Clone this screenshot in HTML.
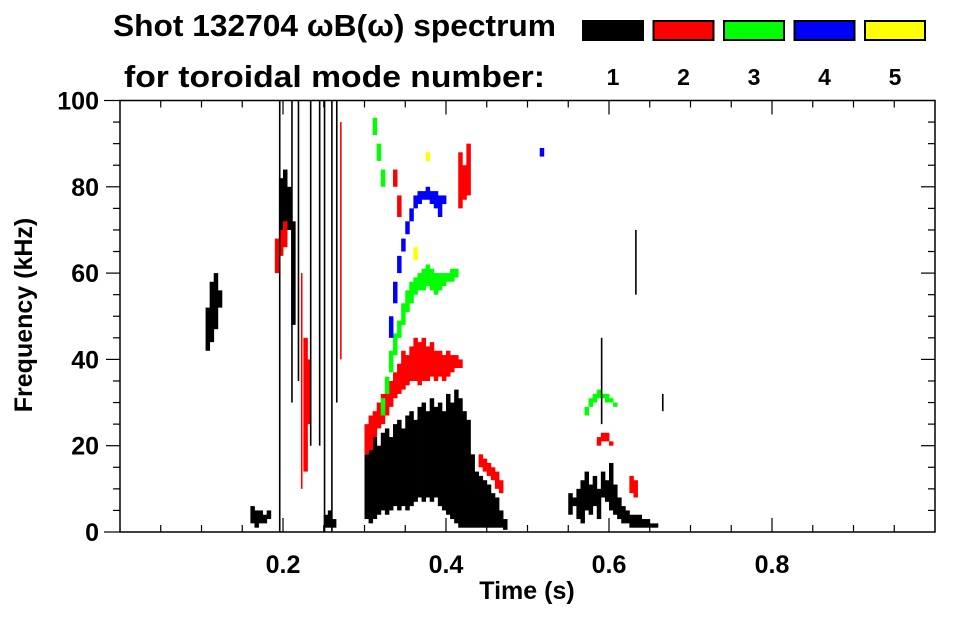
<!DOCTYPE html>
<html><head><meta charset="utf-8"><style>
body{margin:0;background:#fff;}
svg text{font-family:"Liberation Sans",Arial,sans-serif;font-weight:bold;fill:#000;}
</style></head><body>
<svg id="chart" width="963" height="615" viewBox="0 0 963 615" xmlns="http://www.w3.org/2000/svg">
<text x="113" y="36" font-size="31" textLength="443" lengthAdjust="spacingAndGlyphs">Shot 132704 ωB(ω) spectrum</text>
<text x="124" y="87" font-size="31" textLength="421" lengthAdjust="spacingAndGlyphs">for toroidal mode number:</text>
<g id="legend"></g>
<g id="marks"></g>
<g id="axes"></g>
<text x="527" y="599" font-size="25" text-anchor="middle">Time (s)</text>
<text transform="translate(32,315) rotate(-90)" font-size="25" text-anchor="middle">Frequency (kHz)</text>
</svg>
<script>
const modeColors=["#000000","#ff0000","#00ff00","#0000ff","#ffff00"];
const modeLabels=["1","2","3","4","5"];
const xTicks=[0.2,0.4,0.6,0.8];
const yTicks=[0,20,40,60,80,100];
// mode 1 main blob
const blackT=[0.300,0.305,0.310,0.315,0.320,0.325,0.330,0.335,0.340,0.345,0.350,0.355,0.360,0.365,0.370,0.375,0.380,0.385,0.390,0.395,0.400,0.405,0.410,0.415,0.420,0.425,0.430,0.435,0.440,0.445,0.450,0.455,0.460,0.465,0.470,
 0.195,0.200,0.205,0.210, 0.160,0.165,0.170,0.175,0.180, 0.105,0.110,0.115,0.120,
 0.550,0.555,0.560,0.565,0.570,0.575,0.580,0.585,0.590,0.595,0.600,0.605,0.610,0.615,0.620,0.625,0.630,0.635,0.640,0.645,0.650,0.655,0.250,0.255,0.260];
const blackLo=[3,2,3,4,5,4,5,6,5,6,5,6,7,8,7,8,7,8,6,5,4,3,2,1,1,1,1,1,1,1,1,1,1,1,0.5,
 66,68,70,48, 2,1,2,2,3, 42,44,47,52,
 4,6,3,2,5,4,6,3,8,7,5,4,3,2,2,1,1,1,1,1,1,1,1,1,1];
const blackHi=[18,20,22,20,23,24,22,25,26,24,27,28,26,29,30,28,31,29,30,28,32,30,33,31,28,26,18,14,13,12,11,9,8,5,3,
 82,84,80,72, 6,5,5,4,5, 52,58,60,56,
 9,8,10,12,14,11,13,10,14,12,16,11,8,6,5,4,4,4,3,3,2,2,4,5,3];
// mode 2
const redT=[0.300,0.305,0.310,0.315,0.320,0.325,0.330,0.335,0.340,0.345,0.350,0.355,0.360,0.365,0.370,0.375,0.380,0.385,0.390,0.395,0.400,0.405,0.410,0.415,
 0.440,0.445,0.450,0.455,0.460,0.465, 0.190,0.195,0.200, 0.225,0.228, 0.585,0.590,0.595,0.600, 0.625,0.630,0.340,0.335,0.415,0.420,0.425];
const redLo=[18,19,22,24,25,27,29,31,32,33,34,35,35,34,35,35,36,35,36,35,36,37,38,38,
 15,14,13,12,10,9, 60,64,66, 14,25, 20,21,21,20, 9,8,73,80,75,77,78];
const redHi=[25,27,28,30,32,34,35,37,39,42,41,43,45,44,45,43,44,42,42,41,42,41,41,40,
 18,17,16,15,14,12, 68,70,72, 45,40, 22,23,23,21, 13,12,78,84,88,85,90];
// mode 3
const greenT=[0.320,0.325,0.330,0.335,0.340,0.345,0.350,0.355,0.360,0.365,0.370,0.375,0.380,0.385,0.390,0.395,0.400,0.405,0.410,
 0.570,0.575,0.580,0.585,0.590,0.595,0.600,0.605,0.310,0.315,0.320];
const greenLo=[27,32,37,41,45,48,51,53,55,56,56,57,56,55,56,57,58,58,59, 27,29,30,31,31,30,30,29, 92,86,80];
const greenHi=[31,36,42,46,49,53,56,58,59,60,61,62,61,60,60,60,60,61,61, 29,31,32,33,32,32,31,30, 96,90,84];
// mode 4
const blueT=[0.330,0.335,0.340,0.345,0.350,0.355,0.360,0.365,0.370,0.375,0.380,0.385,0.390,0.395,0.515];
const blueLo=[45,53,60,65,69,72,75,76,77,77,76,75,73,76,87];
const blueHi=[50,58,64,68,72,75,78,79,79,80,79,79,78,78,89];
// mode 5
const yellowT=[0.360,0.375];
const yellowLo=[63,86];
const yellowHi=[66,88];
// thin vertical streaks
const streakT=[0.195,0.210,0.218,0.233,0.244,0.250,0.259,0.265,0.270,0.222,0.590,0.632,0.665];
const streakLo=[0,30,35,20,20,0,0,30,40,10,25,55,28];
const streakHi=[100,100,100,100,100,100,100,100,95,60,45,70,32];
const streakMode=[0,0,0,0,0,0,0,0,1,1,0,0,0];

const NS="http://www.w3.org/2000/svg";
const X0=120,XW=815,Y0=532,YH=431.5;
const xs=t=>X0+t*XW, ys=f=>Y0-f/100*YH;
const marks=document.getElementById('marks'),axes=document.getElementById('axes'),legend=document.getElementById('legend');
function mk(tag,parent,attrs){const e=document.createElementNS(NS,tag);for(const k in attrs)e.setAttribute(k,attrs[k]);parent.appendChild(e);return e;}
function drawSeries(T,L,H,mode,name){
 for(let i=0;i<T.length;i++){
  const r=mk('rect',marks,{x:xs(T[i]),y:ys(H[i]),width:xs(0.0055)-xs(0),height:Math.max(1,ys(L[i])-ys(H[i])),fill:modeColors[mode]});
  
  
 }
}
drawSeries(blackT,blackLo,blackHi,0,'mode-1-cell');
drawSeries(redT,redLo,redHi,1,'mode-2-cell');
drawSeries(greenT,greenLo,greenHi,2,'mode-3-cell');
drawSeries(blueT,blueLo,blueHi,3,'mode-4-cell');
drawSeries(yellowT,yellowLo,yellowHi,4,'mode-5-cell');
for(let i=0;i<streakT.length;i++){
 const r=mk('rect',marks,{x:xs(streakT[i]),y:ys(streakHi[i]),width:1.6,height:ys(streakLo[i])-ys(streakHi[i]),fill:modeColors[streakMode[i]]});
 
 
}
const fr=mk('rect',axes,{x:X0,y:ys(100),width:XW,height:Y0-ys(100),fill:'none',stroke:'#000','stroke-width':1.5});


for(let t=0.05;t<1.0;t+=0.05){
 const major=Math.abs(t*10-Math.round(t*10))<1e-6&&Math.round(t*10)%2===0;
 const len=major?14:7;
 mk('line',axes,{x1:xs(t),x2:xs(t),y1:Y0,y2:Y0-len,stroke:'#000','stroke-width':1.2});
 mk('line',axes,{x1:xs(t),x2:xs(t),y1:ys(100),y2:ys(100)+len,stroke:'#000','stroke-width':1.2});
}
for(let f=5;f<100;f+=5){
 const major=f%20===0,len=major?14:7;
 mk('line',axes,{x1:X0,x2:X0-len,y1:ys(f),y2:ys(f),stroke:'#000','stroke-width':1.2});
 mk('line',axes,{x1:X0+XW,x2:X0+XW-len,y1:ys(f),y2:ys(f),stroke:'#000','stroke-width':1.2});
}
mk('line',axes,{x1:X0-16,x2:X0,y1:ys(0),y2:ys(0),stroke:'#000','stroke-width':1.2});
mk('line',axes,{x1:X0-16,x2:X0,y1:ys(100),y2:ys(100),stroke:'#000','stroke-width':1.2});
xTicks.forEach(v=>{const e=mk('text',axes,{x:xs(v),y:573,'font-size':25,'text-anchor':'middle'});e.textContent=v.toFixed(1);
 
 });
yTicks.forEach(v=>{const e=mk('text',axes,{x:99,y:ys(v)+9,'font-size':25,'text-anchor':'end'});e.textContent=v;
 
 });
modeColors.forEach((c,i)=>{
 const bx=583+i*70.5;
 const r=mk('rect',legend,{x:bx,y:21,width:60,height:19,fill:c,stroke:'#000','stroke-width':2});
 
 
 const t=mk('text',legend,{x:bx+30,y:85,'font-size':23,'text-anchor':'middle'});t.textContent=modeLabels[i];
 
 
});
</script>
</body></html>
